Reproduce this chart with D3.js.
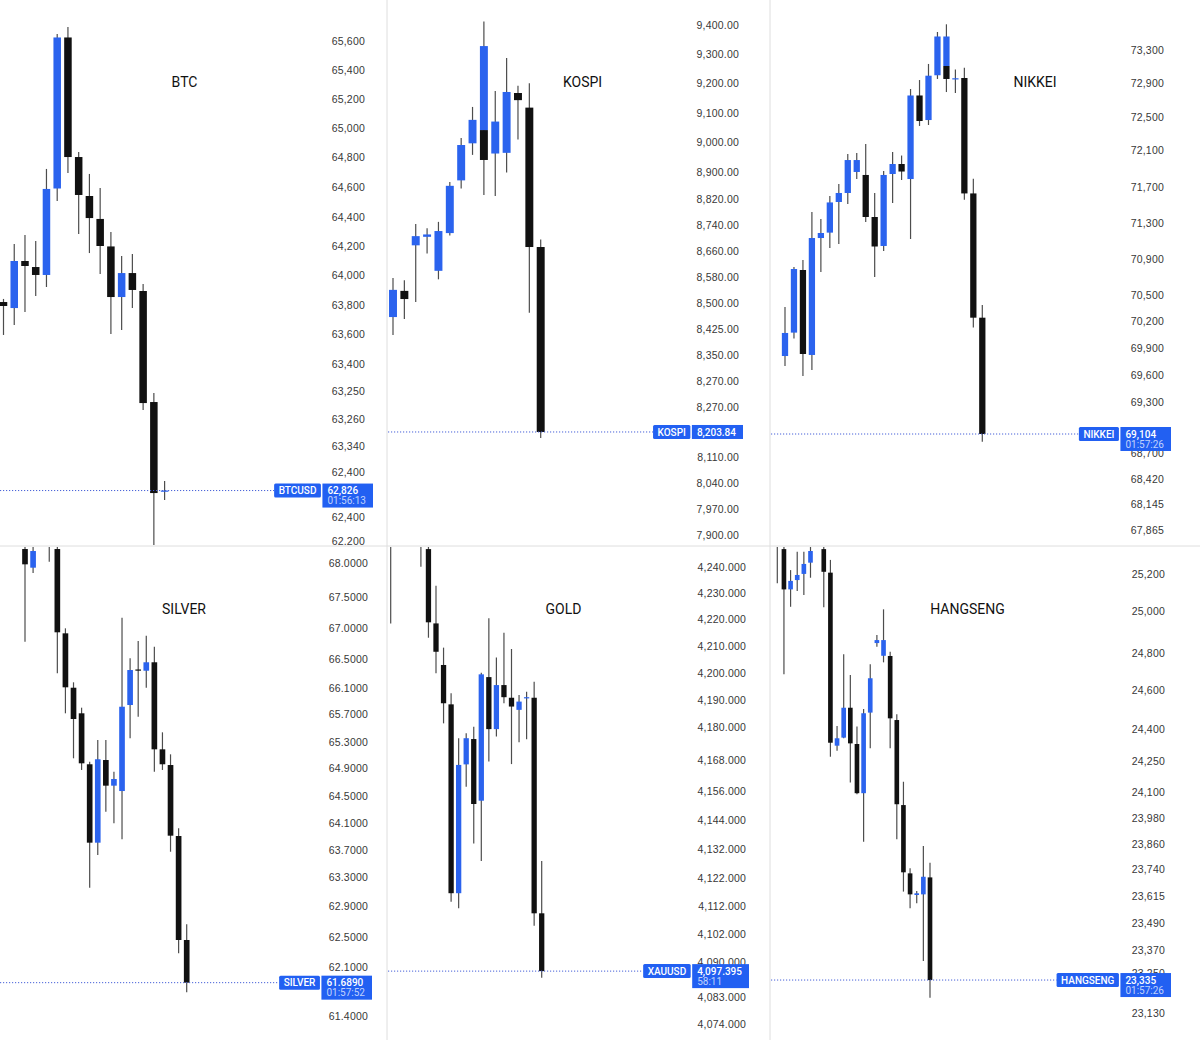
<!DOCTYPE html>
<html>
<head>
<meta charset="utf-8">
<script src="https://cdn.jsdelivr.net/npm/d3@7"></script>
<style>
  body { margin: 0; background: #fff; }
  svg { display: block; font-family: Roboto, "Noto Sans", sans-serif; }
  .axis text { fill: #383838; font-size: 10.5px; letter-spacing: 0.2px; }
  .title { fill: #111; font-size: 14px; }
  .tag text { fill: #fff; font-size: 10px; font-weight: 500; }
  .tag .time { fill: rgba(255,255,255,0.72); font-weight: 400; }
</style>
</head>
<body>
<div id="chart"></div>
<script>
// ---- data: [slot, open, high, low, close] ----
const btcCandles = [
  [0, 63825, 63846, 63601, 63798], [1, 63784, 64220, 63669, 64104],
  [2, 64104, 64281, 63757, 64070], [3, 64063, 64240, 63866, 64009],
  [4, 64009, 64730, 63927, 64594], [5, 64597, 65648, 64512, 65624],
  [6, 65624, 65695, 64702, 64811], [7, 64811, 64845, 64288, 64553],
  [8, 64546, 64696, 64158, 64396], [9, 64390, 64600, 64016, 64206],
  [10, 64203, 64301, 63608, 63859], [11, 63859, 64138, 63635, 64022],
  [12, 64022, 64152, 63784, 63907], [13, 63900, 63948, 63091, 63138],
  [14, 63145, 63206, 62173, 62526], [15, 62536, 62608, 62479, 62543]
];
const btcTicks = ["65,600", "65,400", "65,200", "65,000", "64,800", "64,600", "64,400", "64,200", "64,000",
  "63,800", "63,600", "63,400", "63,250", "63,260", "63,340", "62,400", "62,400", "62,200"];
const btcLevels = [65600, 65403, 65206, 65008, 64811, 64607, 64403, 64206, 64009,
  63805, 63608, 63404, 63220, 63030, 62846, 62669, 62363, 62200];

const kospiCandles = [
  [0, 8541, 8656, 8488, 8621], [1, 8618, 8649, 8535, 8594],
  [2, 8752, 8815, 8585, 8779], [3, 8777, 8802, 8728, 8784],
  [4, 8677, 8821, 8652, 8794], [5, 8788, 8938, 8781, 8927],
  [6, 8943, 9068, 8919, 9047], [7, 9052, 9159, 9018, 9121],
  [8, 9091, 9091, 8900, 9003], [8, 9091, 9410, 9091, 9338],
  [9, 9022, 9206, 8897, 9116], [10, 9024, 9303, 8966, 9203],
  [11, 9200, 9221, 9063, 9179], [12, 9157, 9229, 8554, 8747],
  [13, 8747, 8769, 8185, 8203]
];
const kospiTicks = ["9,400.00", "9,300.00", "9,200.00", "9,100.00", "9,000.00", "8,900.00", "8,820.00",
  "8,740.00", "8,660.00", "8,580.00", "8,500.00", "8,425.00", "8,350.00", "8,270.00", "8,270.00",
  "8,110.00", "8,040.00", "7,970.00", "7,900.00"];
const kospiLevels = [9400, 9314.7, 9229.4, 9141.2, 9055.9, 8967.6, 8888.2, 8811.8, 8735.3, 8658.8,
  8582.4, 8505.9, 8429.4, 8352.9, 8276.5, 8129.4, 8052.9, 7976.5, 7900];

const nikkeiCandles = [
  [0, 69835, 70390, 69722, 70096], [1, 70100, 70843, 70033, 70820],
  [2, 70809, 70922, 69609, 69858], [3, 69847, 71466, 69677, 71171],
  [4, 71171, 71386, 70786, 71228], [5, 71232, 71647, 71058, 71574],
  [6, 71579, 71783, 71103, 71681], [7, 71681, 72122, 71556, 72054],
  [8, 71919, 72134, 71839, 72054], [9, 71885, 72236, 71352, 71409],
  [10, 71409, 71681, 70730, 71075], [11, 71081, 71930, 71024, 71885],
  [12, 71896, 72145, 71568, 72009], [13, 72009, 72105, 71828, 71924],
  [14, 71839, 72858, 71160, 72785], [15, 72785, 72960, 72440, 72496],
  [16, 72507, 73142, 72451, 73009], [17, 73014, 73504, 72972, 73453],
  [18, 73119, 73119, 72824, 72972], [18, 73119, 73591, 73119, 73453],
  [19, 72968, 73080, 72813, 72980], [20, 72983, 73100, 71605, 71676],
  [21, 71676, 71842, 70159, 70269], [22, 70269, 70413, 68865, 68952]
];
const nikkeiTicks = ["73,300", "72,900", "72,500", "72,100", "71,700", "71,300", "70,900", "70,500",
  "70,200", "69,900", "69,600", "69,300", "68,700", "68,420", "68,145", "67,865"];
const nikkeiLevels = [73300, 72926, 72541, 72168, 71749, 71341, 70934, 70526,
  70232, 69926, 69620, 69314, 68737, 68442, 68159, 67865];

const silverCandles = [
  [0, 68.208, 68.340, 66.857, 67.985], [1, 67.936, 68.267, 67.859, 68.179],
  [3, 68.485, 68.631, 68.023, 68.340], [4, 68.208, 68.340, 66.396, 66.994],
  [5, 66.979, 67.052, 65.813, 66.192], [6, 66.186, 66.265, 65.157, 65.730],
  [7, 65.813, 65.895, 64.987, 65.084], [8, 65.070, 65.108, 63.271, 63.927],
  [9, 63.927, 65.424, 63.747, 65.143], [10, 65.132, 65.424, 64.379, 64.758],
  [11, 64.758, 64.962, 64.209, 64.855], [12, 64.680, 67.207, 63.976, 65.909],
  [13, 65.934, 66.615, 65.449, 66.444], [14, 66.452, 66.867, 65.764, 66.437],
  [15, 66.434, 66.944, 66.186, 66.557], [16, 66.557, 66.784, 64.962, 65.288],
  [17, 65.288, 65.536, 64.987, 65.070], [18, 65.059, 65.215, 63.795, 64.029],
  [19, 64.024, 64.137, 62.314, 62.508], [20, 62.508, 62.737, 61.746, 61.886]
];
const silverTicks = ["68.0000", "67.5000", "67.0000", "66.5000", "66.1000", "65.7000", "65.3000", "64.9000",
  "64.5000", "64.1000", "63.7000", "63.3000", "62.9000", "62.5000", "62.1000", "61.4000"];
const silverLevels = [68, 67.513, 67.052, 66.600, 66.178, 65.799, 65.399, 65.011,
  64.612, 64.218, 63.820, 63.422, 63.004, 62.556, 62.119, 61.4];

const goldCandles = [
  [0, 4253.3, 4257.0, 4219.4, 4247.9], [4, 4253.3, 4257.0, 4240.0, 4247.9],
  [5, 4246.4, 4249.7, 4214.2, 4219.8], [6, 4219.4, 4233.1, 4201.3, 4209.1],
  [7, 4204.3, 4210.6, 4183.1, 4190.4], [8, 4190.0, 4194.0, 4118.3, 4121.4],
  [9, 4121.4, 4177.7, 4115.9, 4168.0], [10, 4168.2, 4179.5, 4160.1, 4177.7],
  [11, 4177.4, 4181.9, 4139.5, 4153.8], [12, 4155.0, 4201.5, 4133.1, 4200.9],
  [13, 4199.9, 4221.3, 4169.2, 4181.0], [14, 4181.0, 4207.0, 4178.3, 4197.0],
  [15, 4197.0, 4216.0, 4190.4, 4192.6], [16, 4192.4, 4210.1, 4168.3, 4189.2],
  [17, 4188.0, 4193.4, 4176.2, 4191.0], [18, 4192.2, 4194.6, 4177.3, 4192.6],
  [19, 4192.4, 4198.2, 4109.6, 4114.1], [20, 4114.1, 4133.1, 4090.7, 4093.1]
];
const goldTicks = ["4,240.000", "4,230.000", "4,220.000", "4,210.000", "4,200.000", "4,190.000",
  "4,180.000", "4,168.000", "4,156.000", "4,144.000", "4,132.000", "4,122.000", "4,112.000",
  "4,102.000", "4,090.000", "4,083.000", "4,074.000"];
const goldLevels = [4240, 4230.56, 4221.0, 4211.3, 4201.5, 4191.7, 4181.9, 4169.9, 4158.5,
  4148.0, 4137.5, 4127.0, 4116.8, 4106.5, 4096.5, 4083.7, 4074];

const hangsengCandles = [
  [0, 25406, 25453, 25155, 25335], [1, 25316, 25359, 24726, 25126],
  [2, 25126, 25217, 25044, 25166], [3, 25170, 25304, 25118, 25194],
  [4, 25199, 25304, 25100, 25246], [5, 25252, 25335, 25181, 25307],
  [7, 25316, 25359, 25042, 25209], [8, 25205, 25265, 24337, 24403],
  [9, 24389, 24482, 24365, 24424], [10, 24427, 24820, 24424, 24568],
  [11, 24568, 24722, 24216, 24400], [12, 24397, 24479, 24160, 24165],
  [13, 24165, 24562, 23936, 24542], [14, 24545, 24773, 24377, 24707],
  [15, 24873, 24911, 24856, 24887], [16, 24813, 25032, 24782, 24887],
  [17, 24812, 24832, 24377, 24518], [18, 24510, 24537, 23948, 24113],
  [19, 24109, 24219, 23701, 23792], [20, 23787, 23811, 23622, 23688],
  [21, 23685, 23704, 23646, 23693], [22, 23688, 23916, 23374, 23771],
  [23, 23768, 23837, 23201, 23284]
];
const hangsengTicks = ["25,200", "25,000", "24,800", "24,600", "24,400", "24,250", "24,100", "23,980",
  "23,860", "23,740", "23,615", "23,490", "23,370", "23,250", "23,130"];
const hangsengLevels = [25200, 25022.7, 24827.5, 24651.6, 24466.3, 24318.2, 24172.1, 24046.6,
  23926.9, 23807.6, 23680.3, 23551.5, 23425.6, 23315.8, 23130];

// ---- panel layout ----
const panels = [
  { key: 'btc', title: 'BTC', tag: 'BTCUSD', price: '62,826', time: '01:56:13',
    candles: btcCandles, ticks: btcTicks, levels: btcLevels, slots: 16,
    box: [0, 0, 386, 545], xRange: [3.5, 164.6], yRange: [541, 41],
    axisX: 365, tagRight: 373, titleX: 184.5, titleY: 87 },
  { key: 'kospi', title: 'KOSPI', tag: 'KOSPI', price: '8,203.84', time: null,
    candles: kospiCandles, ticks: kospiTicks, levels: kospiLevels, slots: 14,
    box: [388, 0, 381, 545], xRange: [393, 540.7], yRange: [535, 25],
    axisX: 739, tagRight: 743, titleX: 582.5, titleY: 87 },
  { key: 'nikkei', title: 'NIKKEI', tag: 'NIKKEI', price: '69,104', time: '01:57:26',
    candles: nikkeiCandles, ticks: nikkeiTicks, levels: nikkeiLevels, slots: 23,
    box: [771, 0, 429, 545], xRange: [785, 982.3], yRange: [530, 50],
    axisX: 1164, tagRight: 1171, titleX: 1035, titleY: 87 },
  { key: 'silver', title: 'SILVER', tag: 'SILVER', price: '61.6890', time: '01:57:52',
    candles: silverCandles, ticks: silverTicks, levels: silverLevels, slots: 21,
    box: [0, 547, 386, 493], xRange: [25, 186.7], yRange: [1016, 563.3],
    axisX: 368, tagRight: 372, titleX: 184, titleY: 614 },
  { key: 'gold', title: 'GOLD', tag: 'XAUUSD', price: '4,097.395', time: '58:11',
    candles: goldCandles, ticks: goldTicks, levels: goldLevels, slots: 21,
    box: [388, 547, 381, 493], xRange: [390.7, 541.7], yRange: [1023.7, 566.7],
    axisX: 746, tagRight: 749, titleX: 563.5, titleY: 614 },
  { key: 'hangseng', title: 'HANGSENG', tag: 'HANGSENG', price: '23,335', time: '01:57:26',
    candles: hangsengCandles, ticks: hangsengTicks, levels: hangsengLevels, slots: 24,
    box: [771, 547, 429, 493], xRange: [777.3, 930], yRange: [1012.7, 573.7],
    axisX: 1165, tagRight: 1171, titleX: 967.5, titleY: 614 }
];

const bullColor = '#2b63ee';
const bearColor = '#111';
const wickColor = '#4d4d4d';
const tagColor = '#2260f2';

const width = 1200;
const height = 1040;

const svg = d3.select('#chart').append('svg')
  .attr('width', width)
  .attr('height', height);

const defs = svg.append('defs');

panels.forEach(p => {
  const [bx, by, bw, bh] = p.box;

  defs.append('clipPath').attr('id', `clip-${p.key}`)
    .append('rect').attr('x', bx).attr('y', by).attr('width', bw).attr('height', bh);

  const $panel = svg.append('g').attr('class', `panel panel-${p.key}`)
    .attr('clip-path', `url(#clip-${p.key})`);

  // scales
  const x = d3.scaleLinear().domain([0, p.slots - 1]).range(p.xRange);
  const y = d3.scaleLinear()
    .domain([p.levels[p.levels.length - 1], p.levels[0]])
    .range(p.yRange);
  const bodyW = (x(1) - x(0)) * 0.7;

  // title
  $panel.append('text').attr('class', 'title')
    .attr('x', p.titleX).attr('y', p.titleY)
    .attr('text-anchor', 'middle')
    .text(p.title);

  // price axis
  const labelOf = new Map(p.levels.map((v, i) => [v, p.ticks[i]]));
  const axis = d3.axisRight(y)
    .tickValues(p.levels)
    .tickFormat(d => labelOf.get(d))
    .tickSize(0)
    .tickPadding(0);
  const $axis = $panel.append('g').attr('class', 'axis')
    .attr('transform', `translate(${p.axisX},0)`)
    .call(axis);
  $axis.select('.domain').remove();
  $axis.selectAll('text').attr('text-anchor', 'end').attr('x', 0);

  // candles
  const $c = $panel.append('g').attr('class', 'candles')
    .selectAll('g').data(p.candles).join('g');

  $c.append('line')
    .attr('x1', d => x(d[0])).attr('x2', d => x(d[0]))
    .attr('y1', d => y(d[2])).attr('y2', d => y(d[3]))
    .attr('stroke', wickColor).attr('stroke-width', 1.2);

  $c.append('rect')
    .attr('x', d => x(d[0]) - bodyW / 2)
    .attr('width', bodyW)
    .attr('y', d => y(Math.max(d[1], d[4])))
    .attr('height', d => Math.max(1.2, Math.abs(y(d[1]) - y(d[4]))))
    .attr('fill', d => d[4] >= d[1] ? bullColor : bearColor);

  // last price line + tag
  const last = p.candles[p.candles.length - 1];
  const ly = y(last[4]);

  const $tag = $panel.append('g').attr('class', 'tag');
  const $priceText = $tag.append('text').text(p.price);
  const $timeText = p.time ? $tag.append('text').attr('class', 'time').text(p.time) : null;
  const valW = Math.max($priceText.node().getComputedTextLength(),
    $timeText ? $timeText.node().getComputedTextLength() : 0) + 12;
  const valX = p.tagRight - valW;
  const $labelText = $tag.append('text').text(p.tag);
  const labW = $labelText.node().getComputedTextLength() + 9;
  const labX = valX - 1.5 - labW;
  const boxTop = ly - 7;

  $panel.insert('line', '.tag')
    .attr('x1', bx).attr('x2', labX)
    .attr('y1', ly).attr('y2', ly)
    .attr('stroke', '#4660d8').attr('stroke-width', 1)
    .attr('stroke-dasharray', '1.2,1.8');

  $tag.insert('rect', 'text')
    .attr('x', labX).attr('y', boxTop).attr('width', labW).attr('height', 14)
    .attr('rx', 1.5).attr('fill', tagColor);
  $tag.insert('rect', 'text')
    .attr('x', valX).attr('y', boxTop).attr('width', valW).attr('height', p.time ? 24 : 14)
    .attr('fill', tagColor);

  $labelText.attr('x', labX + labW / 2).attr('y', ly + 3.6).attr('text-anchor', 'middle');
  $priceText.attr('x', valX + 5).attr('y', ly + 3.6);
  if ($timeText) $timeText.attr('x', valX + 5).attr('y', ly + 13.6);
});

// dividers
const $grid = svg.append('g').attr('stroke', '#dedede').attr('stroke-width', 1);
$grid.append('line').attr('x1', 0).attr('x2', width).attr('y1', 546).attr('y2', 546);
$grid.append('line').attr('x1', 387).attr('x2', 387).attr('y1', 0).attr('y2', height);
$grid.append('line').attr('x1', 770).attr('x2', 770).attr('y1', 0).attr('y2', height);
</script>
</body>
</html>
